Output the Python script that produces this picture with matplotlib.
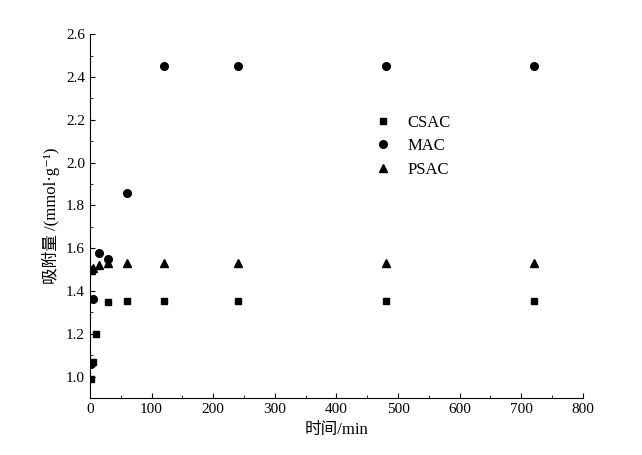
import matplotlib
matplotlib.use('Agg')
import matplotlib.pyplot as plt

plt.rcParams['font.family'] = ['Liberation Serif', 'Noto Sans CJK SC', 'DejaVu Sans']

t_csac = [2, 5, 10, 30, 60, 120, 240, 480, 720]
q_csac = [0.99, 1.07, 1.20, 1.35, 1.355, 1.355, 1.355, 1.355, 1.355]
t_mac = [2, 5, 15, 30, 60, 120, 240, 480, 720]
q_mac = [1.06, 1.365, 1.58, 1.55, 1.86, 2.45, 2.45, 2.45, 2.45]
t_psac = [2, 5, 15, 30, 60, 120, 240, 480, 720]
q_psac = [1.50, 1.51, 1.52, 1.53, 1.53, 1.53, 1.53, 1.53, 1.53]

fig = plt.figure(figsize=(6.42, 4.55), dpi=100)
ax = fig.add_axes([0.14, 0.125, 0.768, 0.8])
ax.plot(t_csac, q_csac, 's', color='black', ms=5, label='CSAC')
ax.plot(t_mac, q_mac, 'o', color='black', ms=5.5, label='MAC')
ax.plot(t_psac, q_psac, '^', color='black', ms=6, label='PSAC')
ax.set_xlim(0, 800)
ax.set_ylim(0.9, 2.6)
ax.set_xticks(range(0, 801, 100))
ax.set_yticks([1.0, 1.2, 1.4, 1.6, 1.8, 2.0, 2.2, 2.4, 2.6])
ax.set_xticks(range(50, 800, 100), minor=True)
ax.set_yticks([1.1, 1.3, 1.5, 1.7, 1.9, 2.1, 2.3, 2.5], minor=True)
ax.tick_params(direction='in', labelsize=11)
ax.tick_params(which='minor', direction='in', length=2)
for s in ['top', 'right']:
    ax.spines[s].set_visible(False)
ax.set_xlabel('时间/min', fontsize=12)
ax.set_ylabel('吸附量 /(mmol·g⁻¹)', fontsize=12)
ax.legend(loc='upper left', bbox_to_anchor=(0.53, 0.82), frameon=False, fontsize=12,
          handletextpad=0.5, labelspacing=0.45)
fig.savefig('out.png')
